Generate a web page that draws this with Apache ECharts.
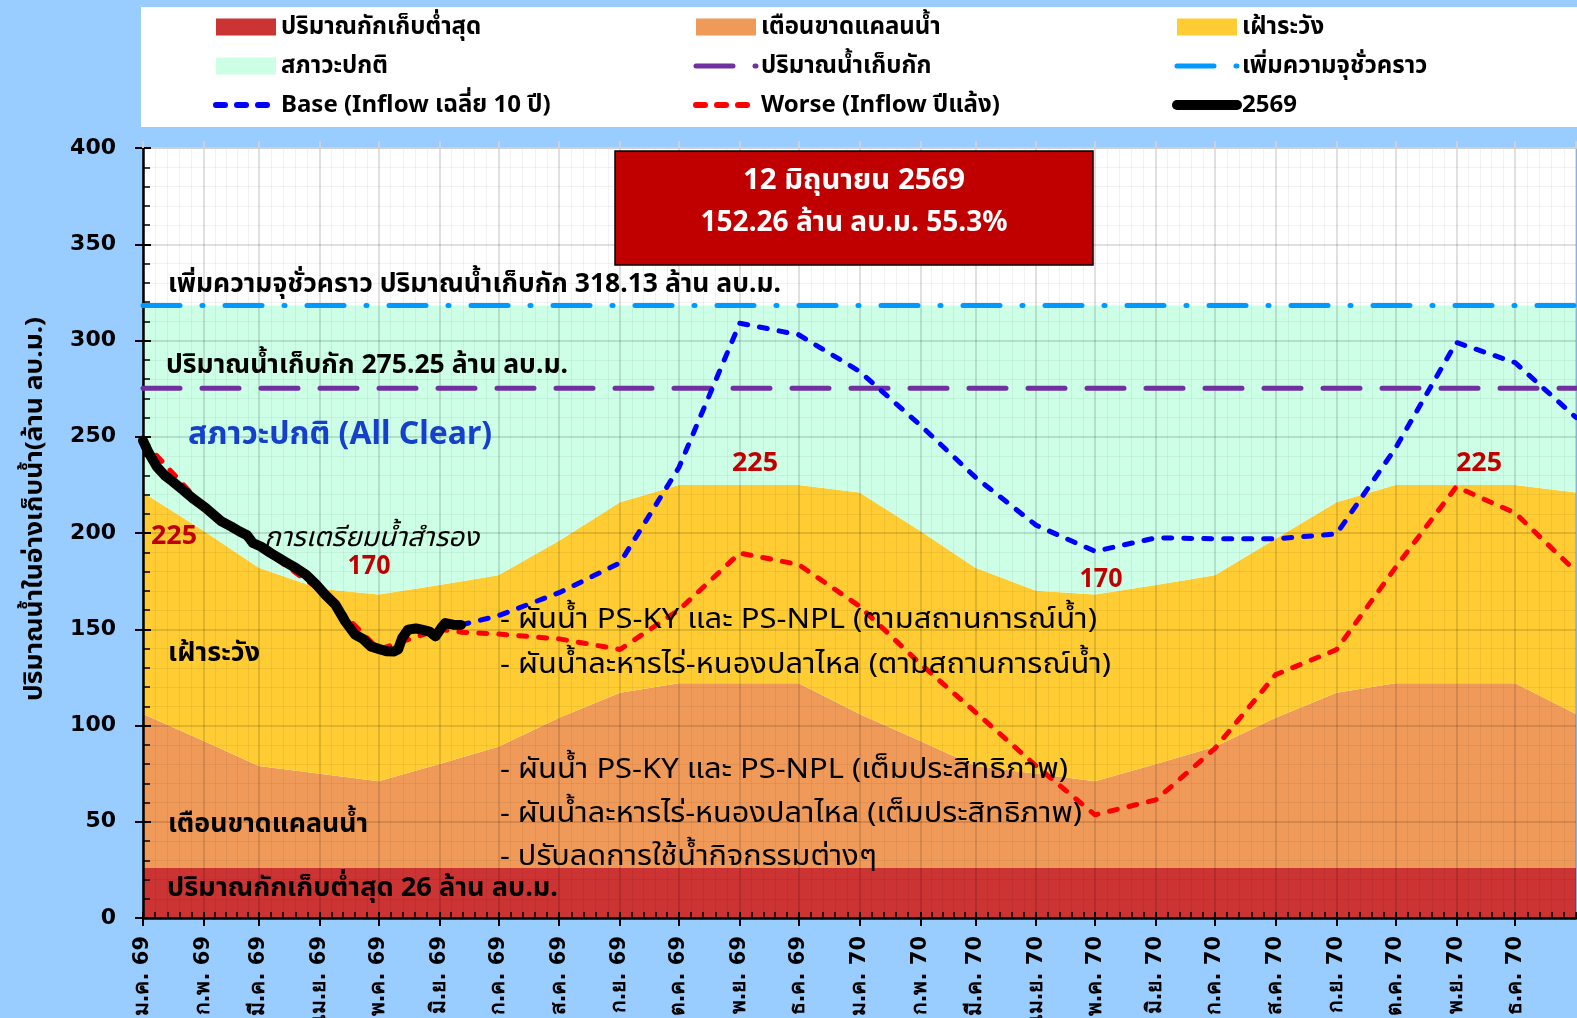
<!DOCTYPE html>
<html>
<head>
<meta charset="utf-8">
<script src="https://cdn.jsdelivr.net/npm/echarts@6/dist/echarts.min.js"></script>
<style>
html,body{margin:0;padding:0;background:#99CCFF;}
#chart{width:1577px;height:1018px;}
</style>
</head>
<body>
<div id="chart"></div>
<script>
// ---------------- data ----------------
const thaiMonths = ['ม.ค.','ก.พ.','มี.ค.','เม.ย.','พ.ค.','มิ.ย.','ก.ค.','ส.ค.','ก.ย.','ต.ค.','พ.ย.','ธ.ค.'];

const bandDates = ['2026-01-01','2026-02-01','2026-03-01','2026-04-01','2026-05-01','2026-06-01','2026-07-01','2026-08-01','2026-09-01','2026-10-01','2026-11-01','2026-12-01',
                   '2027-01-01','2027-02-01','2027-03-01','2027-04-01','2027-05-01','2027-06-01','2027-07-01','2027-08-01','2027-09-01','2027-10-01','2027-11-01','2027-12-01','2028-01-01'];
const minStorage = 26;
const warnTop  = [106, 92, 79, 75, 71, 80, 89, 104, 117, 122, 122, 122, 106, 92, 79, 75, 71, 80, 89, 104, 117, 122, 122, 122, 106];
const watchTop = [221, 201, 182, 171, 168, 173, 178, 196, 216, 225, 225, 225, 221, 201, 182, 170, 168, 173, 178, 197, 216, 225, 225, 225, 221];
const capacityLevel = 275.25;
const tempCapacityLevel = 318.13;

const baseDates  = ['2026-06-12','2026-07-01','2026-08-01','2026-09-01','2026-10-01','2026-11-01','2026-12-01','2027-01-01','2027-02-01','2027-03-01','2027-04-01','2027-05-01','2027-06-01','2027-07-01','2027-08-01','2027-09-01','2027-10-01','2027-11-01','2027-12-01','2028-01-01'];
const baseValues = [152.26, 157, 169, 184.5, 234, 309, 303, 284, 256, 229, 204, 190.5, 197.5, 197, 197, 199.5, 244, 299, 288.5, 260];

const worseDates  = ['2026-01-01','2026-02-01','2026-03-01','2026-04-01','2026-05-01','2026-06-01','2026-06-12','2026-07-01','2026-08-01','2026-09-01','2026-10-01','2026-11-01','2026-12-01','2027-01-01','2027-02-01','2027-03-01','2027-04-01','2027-05-01','2027-06-01','2027-07-01','2027-08-01','2027-09-01','2027-10-01','2027-11-01','2027-12-01','2028-01-01'];
const worseValues = [248, 213.5, 193, 170.5, 139.5, 150, 148.5, 147.5, 145, 139.5, 160, 189.6, 183.6, 162, 132, 107, 79, 53.6, 61.4, 88, 126.4, 139.4, 182, 224, 210.4, 180];

const actualDates  = ['2026-01-01','2026-01-04','2026-01-08','2026-01-12','2026-01-16','2026-01-21','2026-01-27','2026-02-02','2026-02-06','2026-02-10','2026-02-15','2026-02-19','2026-02-23','2026-02-26','2026-03-02','2026-03-07','2026-03-14','2026-03-20','2026-03-25','2026-03-30','2026-04-04','2026-04-09','2026-04-14','2026-04-19','2026-04-23','2026-04-27','2026-05-01','2026-05-05','2026-05-09','2026-05-11','2026-05-13','2026-05-16','2026-05-20','2026-05-23','2026-05-27','2026-05-30','2026-06-02','2026-06-04','2026-06-08','2026-06-12'];
const actualValues = [248, 241.5, 234.5, 230, 226.8, 222.6, 217.5, 213, 209.5, 206, 203.3, 200.9, 198.8, 194.8, 193, 189.6, 185.3, 181.8, 178.4, 173.5, 167.8, 162.8, 154.1, 147.2, 145, 141.1, 139.8, 138.6, 138.5, 139.6, 145.4, 149.8, 150.4, 149.8, 148.8, 146.3, 150.8, 153.2, 152.4, 152.26];

const yTicks = {min: 0, max: 400, interval: 50};

// ---------------- helpers ----------------
const FONT = "'Noto Sans', 'Noto Sans Thai', sans-serif";
const NUMFONT = "'DejaVu Sans', 'Noto Sans', sans-serif";
const zip = (d, v) => d.map((x, i) => [x, v[i]]);
const X_MIN = '2026-01-01', X_MAX = '2028-01-01';

const stackRed    = bandDates.map(() => minStorage);
const stackOrange = warnTop.map(v => +(v - minStorage).toFixed(2));
const stackYellow = watchTop.map((v, i) => +(v - warnTop[i]).toFixed(2));
const stackGreen  = watchTop.map(v => +(tempCapacityLevel - v).toFixed(2));

const C = {red:'#CC3333', orange:'#F09A5A', yellow:'#FFCC33', green:'#CCFFE6',
           purple:'#7030A0', cyan:'#0099FF', blue:'#0000FF', worse:'#FF0000', black:'#000000'};

function areaSeries(name, color, data){
  return {name, type:'line', stack:'band', data: zip(bandDates, data), symbol:'none',
          lineStyle:{width:0}, itemStyle:{color}, areaStyle:{color, opacity:1}, z:1, silent:true};
}
function lineSeries(name, dates, values, style, z){
  return {name, type:'line', data: zip(dates, values), symbol:'none', itemStyle:{color:style.color},
          lineStyle:Object.assign({cap:'round', join:'round'}, style), z: z||5};
}

const measureCtx = document.createElement('canvas').getContext('2d');
function fitText(x, y, text, font, fill, targetW, align){
  measureCtx.font = font;
  const w = measureCtx.measureText(text).width || 1;
  const s = targetW / w;
  return {type:'text', x, y, z:100, scaleX:s, scaleY:1, originX:0, originY:0,
          style:{text, font, fill, verticalAlign:'middle', align: align||'left'}};
}

const chart = echarts.init(document.getElementById('chart'), null, {renderer:'canvas'});

const xFormatter = v => { const d = new Date(v); return thaiMonths[d.getMonth()] + ' ' + String((d.getFullYear()+543)%100); };

const gridL = 143, gridT = 148;
const legendText = {fontFamily: FONT, fontWeight:'bold', fontSize:24, color:'#000'};
const hideSym = {opacity:0, color:'transparent', borderWidth:0};

const option = {
  backgroundColor:'#99CCFF',
  animation:false,
  grid:{left:gridL, top:gridT, right:1, bottom:100, show:true, backgroundColor:'#FFFFFF', borderWidth:0,
        containLabel:false, outerBoundsMode:'none'},
  legend:[
    {orient:'vertical', left:208, top:10, itemWidth:60, itemHeight:17, itemGap:15, textStyle:legendText,
     data:[{name:'ปริมาณกักเก็บต่ำสุด', icon:'rect'},{name:'สภาวะปกติ', icon:'rect'},
           {name:'Base (Inflow เฉลี่ย 10 ปี)', itemStyle:hideSym, lineStyle:{width:6, type:[9,12], cap:'round'}}]},
    {orient:'vertical', left:688, top:10, itemWidth:60, itemHeight:17, itemGap:15, textStyle:legendText,
     data:[{name:'เตือนขาดแคลนน้ำ', icon:'rect'},
           {name:'ปริมาณน้ำเก็บกัก', itemStyle:hideSym, lineStyle:{width:5, type:[37,22], cap:'round'}},
           {name:'Worse (Inflow ปีแล้ง)', itemStyle:hideSym, lineStyle:{width:6, type:[9,12], cap:'round'}}]},
    {orient:'vertical', left:1167, top:10, itemWidth:60, itemHeight:17, itemGap:15, textStyle:legendText,
     data:[{name:'เฝ้าระวัง', icon:'rect'},
           {name:'เพิ่มความจุชั่วคราว', itemStyle:hideSym, lineStyle:{width:5, type:[37,22,1,22], cap:'round'}},
           {name:'2569', itemStyle:hideSym, lineStyle:{width:10, cap:'round'}}]}
  ],
  xAxis:[
    {type:'time', min:X_MIN, max:X_MAX, position:'bottom', splitNumber:24,
     minInterval:28*86400000, maxInterval:31*86400000, z:3,
     axisLine:{show:true, onZero:false, lineStyle:{color:'#000', width:2.5}},
     axisTick:{show:true, inside:false, length:8, lineStyle:{color:'#000', width:2}},
     minorTick:{show:false, splitNumber:5},
     axisLabel:{show:true, rotate:90, margin:18, formatter:xFormatter, showMaxLabel:false, showMinLabel:true,
                fontFamily:NUMFONT, fontWeight:'bold', fontSize:21, color:'#000', hideOverlap:false},
     splitLine:{show:true, lineStyle:{color:'rgba(0,0,0,0.12)', width:2}},
     minorSplitLine:{show:true, lineStyle:{color:'rgba(0,0,0,0.05)', width:1}}},
    {type:'time', min:X_MIN, max:X_MAX, position:'bottom', splitNumber:24,
     minInterval:28*86400000, maxInterval:31*86400000, z:3,
     axisLine:{show:false, onZero:false},
     axisTick:{show:true, inside:true, length:6, lineStyle:{color:'#000', width:2}},
     minorTick:{show:true, splitNumber:5, length:6, lineStyle:{color:'#000', width:1.5}},
     axisLabel:{show:false}, splitLine:{show:false}},
    {type:'time', min:X_MIN, max:X_MAX, position:'top', splitNumber:24,
     minInterval:28*86400000, maxInterval:31*86400000, z:3,
     axisLine:{show:true, onZero:false, lineStyle:{color:'#D0D0D0', width:2}},
     axisTick:{show:true, inside:false, length:7, lineStyle:{color:'#D0D0D0', width:2}},
     axisLabel:{show:false}, splitLine:{show:false}}
  ],
  yAxis:[
    {type:'value', min:yTicks.min, max:yTicks.max, interval:yTicks.interval, position:'left', z:3,
     axisLine:{show:true, onZero:false, lineStyle:{color:'#000', width:2.5}},
     axisTick:{show:true, inside:false, length:8, lineStyle:{color:'#000', width:2}},
     minorTick:{show:false, splitNumber:5},
     axisLabel:{margin:27, fontFamily:NUMFONT, fontWeight:'bold', fontSize:22, color:'#000'},
     splitLine:{show:true, lineStyle:{color:'rgba(0,0,0,0.12)', width:2}},
     minorSplitLine:{show:true, lineStyle:{color:'rgba(0,0,0,0.05)', width:1}}},
    {type:'value', min:yTicks.min, max:yTicks.max, interval:yTicks.interval, position:'left', offset:0, z:3,
     axisLine:{show:false, onZero:false},
     axisTick:{show:true, inside:true, length:8, lineStyle:{color:'#000', width:2}},
     minorTick:{show:true, splitNumber:5, length:7, lineStyle:{color:'#000', width:1.5}},
     axisLabel:{show:false}, splitLine:{show:false}}
  ],
  series:[
    areaSeries('ปริมาณกักเก็บต่ำสุด', C.red, stackRed),
    areaSeries('เตือนขาดแคลนน้ำ', C.orange, stackOrange),
    areaSeries('เฝ้าระวัง', C.yellow, stackYellow),
    areaSeries('สภาวะปกติ', C.green, stackGreen),
    lineSeries('ปริมาณน้ำเก็บกัก', [X_MIN, X_MAX], [capacityLevel, capacityLevel], {color:C.purple, width:5, type:[37,22], cap:'round'}, 4),
    lineSeries('เพิ่มความจุชั่วคราว', [X_MIN, X_MAX], [tempCapacityLevel, tempCapacityLevel], {color:C.cyan, width:5, type:[37,22,1,22], cap:'round'}, 4),
    lineSeries('Base (Inflow เฉลี่ย 10 ปี)', baseDates, baseValues, {color:C.blue, width:5, type:[8,12]}, 5),
    lineSeries('Worse (Inflow ปีแล้ง)', worseDates, worseValues, {color:C.worse, width:5, type:[8,12]}, 6),
    lineSeries('2569', actualDates, actualValues, {color:C.black, width:10}, 7)
  ],
  graphic:[
    {type:'rect', z:-1, silent:true, shape:{x:141, y:7, width:1436, height:120}, style:{fill:'#FFFFFF'}},
    // y axis name
    Object.assign(fitText(35, 509, 'ปริมาณน้ำในอ่างเก็บน้ำ(ล้าน ลบ.ม.)', "bold 24px " + FONT, '#000', 384, 'center'), {rotation:Math.PI/2}),
    // date box
    {type:'rect', z:90, shape:{x:615, y:151, width:478, height:114}, style:{fill:'#C00000', stroke:'#000', lineWidth:1.5}},
    fitText(854, 181, '12 มิถุนายน 2569', "bold 28px " + FONT, '#fff', 222, 'center'),
    fitText(854, 223, '152.26 ล้าน ลบ.ม. 55.3%', "bold 28px " + FONT, '#fff', 307, 'center'),
    fitText(168, 285, 'เพิ่มความจุชั่วคราว ปริมาณน้ำเก็บกัก 318.13 ล้าน ลบ.ม.', "bold 26px " + FONT, '#000', 613),
    fitText(166, 366, 'ปริมาณน้ำเก็บกัก 275.25 ล้าน ลบ.ม.', "bold 26px " + FONT, '#000', 402),
    fitText(188, 435, 'สภาวะปกติ (All Clear)', "bold 32px " + FONT, '#1540CC', 304),
    fitText(151, 537, '225', "bold 26px " + FONT, '#C00000', 46),
    fitText(264, 538, 'การเตรียมน้ำสำรอง', "italic 27px " + FONT, '#000', 215),
    fitText(369, 567, '170', "bold 26px " + FONT, '#C00000', 43, 'center'),
    fitText(755, 464, '225', "bold 26px " + FONT, '#C00000', 46, 'center'),
    fitText(1101, 580, '170', "bold 26px " + FONT, '#C00000', 43, 'center'),
    fitText(1479, 464, '225', "bold 26px " + FONT, '#C00000', 46, 'center'),
    fitText(500, 620, '- ผันน้ำ PS-KY และ PS-NPL (ตามสถานการณ์น้ำ)', "28px " + FONT, '#000', 597),
    fitText(500, 665, '- ผันน้ำละหารไร่-หนองปลาไหล (ตามสถานการณ์น้ำ)', "28px " + FONT, '#000', 611),
    fitText(168, 654, 'เฝ้าระวัง', "bold 26px " + FONT, '#000', 92),
    fitText(500, 770, '- ผันน้ำ PS-KY และ PS-NPL (เต็มประสิทธิภาพ)', "28px " + FONT, '#000', 568),
    fitText(500, 814, '- ผันน้ำละหารไร่-หนองปลาไหล (เต็มประสิทธิภาพ)', "28px " + FONT, '#000', 582),
    fitText(500, 857, '- ปรับลดการใช้น้ำกิจกรรมต่างๆ', "28px " + FONT, '#000', 377),
    fitText(168, 825, 'เตือนขาดแคลนน้ำ', "bold 26px " + FONT, '#000', 200),
    fitText(167, 889, 'ปริมาณกักเก็บต่ำสุด 26 ล้าน ลบ.ม.', "bold 26px " + FONT, '#000', 391)
  ]
};
chart.setOption(option);
</script>
</body>
</html>
